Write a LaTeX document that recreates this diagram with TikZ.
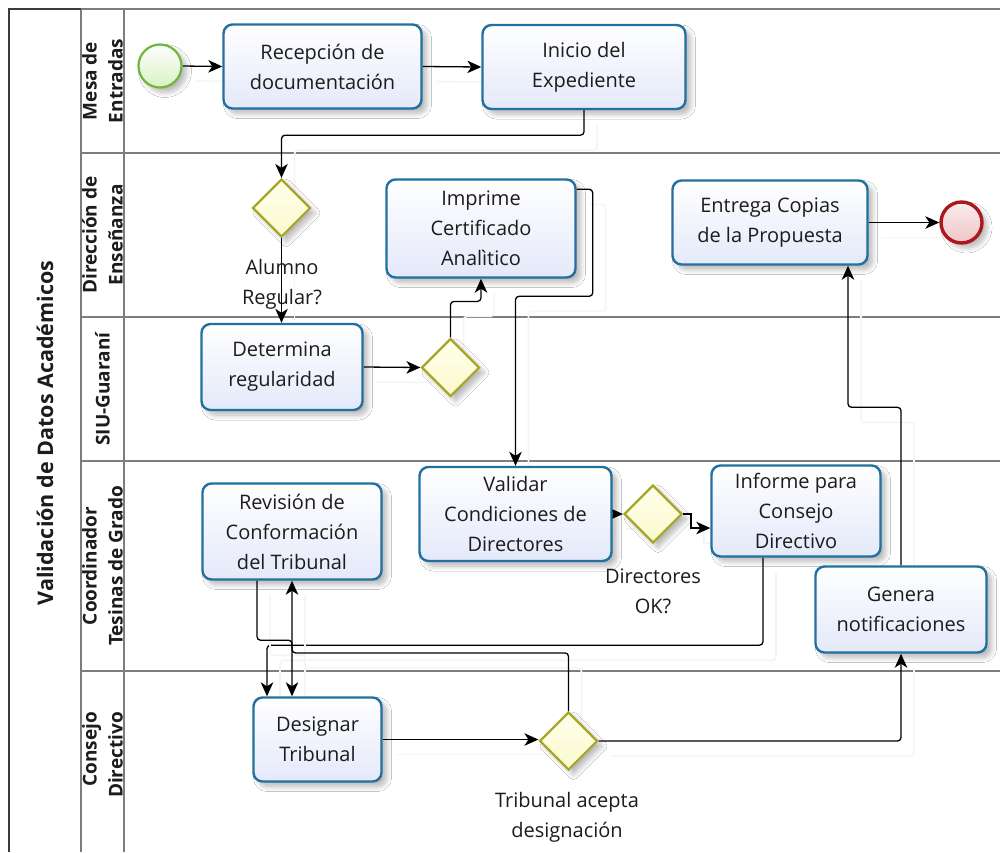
\documentclass[tikz,border=0pt]{standalone}
\usepackage{fontspec}
\setmainfont{Open Sans}
\usetikzlibrary{shapes.geometric,arrows.meta,shadows.blur,calc}

\definecolor{taskline}{RGB}{34,112,160}
\definecolor{taskfill}{RGB}{228,233,250}
\definecolor{gateline}{RGB}{166,166,40}
\definecolor{gatetop}{RGB}{255,255,236}
\definecolor{gatebot}{RGB}{249,249,205}
\definecolor{startline}{RGB}{112,182,60}
\definecolor{startfill}{RGB}{218,240,196}
\definecolor{endline}{RGB}{172,24,30}
\definecolor{endfill}{RGB}{240,196,198}
\definecolor{laneline}{RGB}{125,125,125}
\definecolor{poolline}{RGB}{60,60,60}
\definecolor{txt}{RGB}{28,28,28}

\pgfdeclarelayer{back}
\pgfsetlayers{back,main}

\begin{document}
\begin{tikzpicture}[x=1pt,y=-1pt,
  softshadow/.style={blur shadow={shadow xshift=5pt,shadow yshift=-5pt,
      shadow blur radius=5pt,shadow blur steps=8,shadow opacity=28}},
  task/.style={rectangle,rounded corners=9pt,draw=taskline,line width=2.4pt,
      top color=white,bottom color=taskfill,text=txt,align=center,
      font=\fontsize{20}{30}\selectfont,inner sep=0pt,softshadow},
  gateway/.style={diamond,aspect=1,draw=gateline,line width=2.2pt,
      top color=gatetop,bottom color=gatebot,minimum size=58pt,inner sep=0pt,softshadow},
  startev/.style={circle,draw=startline,line width=2.2pt,top color=white,
      bottom color=startfill,minimum size=43pt,inner sep=0pt,softshadow},
  endev/.style={circle,draw=endline,line width=3.4pt,top color=white!70!endfill,
      bottom color=endfill,minimum size=41pt,inner sep=0pt,softshadow},
  lbl/.style={text=txt,align=center,font=\fontsize{20}{30}\selectfont,inner sep=0pt},
  lanelbl/.style={rotate=90,text=txt,align=center,
      font=\fontsize{19}{26}\selectfont\bfseries,inner sep=0pt},
  flow/.style={draw=black,line width=1.3pt,rounded corners=3.5pt,
      -{Stealth[length=14pt,width=12.5pt,inset=4pt]},
      preaction={draw=black!4,line width=1.6pt,-,transform canvas={shift={(13pt,-15pt)}}}},
  lane/.style={draw=laneline,line width=1.4pt},
  pool/.style={draw=poolline,line width=1.8pt}
]
\useasboundingbox (0,0) rectangle (1000,852);

% ---- tasks ----
\node[task,minimum width=198pt,minimum height=84pt] (rec) at (322.5,66.5) {Recepción de\\documentación};
\node[task,minimum width=203pt,minimum height=84pt] (ini) at (584,67) {Inicio del\\Expediente};
\node[task,minimum width=189pt,minimum height=98pt] (imp) at (481,228.5) {Imprime\\Certificado\\Analìtico};
\node[task,minimum width=195pt,minimum height=84pt] (ent) at (770,222.5) {Entrega Copias\\de la Propuesta};
\node[task,minimum width=161pt,minimum height=86pt] (det) at (282,367) {Determina\\regularidad};
\node[task,minimum width=192pt,minimum height=94pt] (val) at (515.5,514) {Validar\\Condiciones de\\Directores};
\node[task,minimum width=169pt,minimum height=91pt] (inf) at (796,511) {Informe para\\Consejo\\Directivo};
\node[task,minimum width=179pt,minimum height=96pt] (rev) at (292,531.5) {Revisión de\\Conformación\\del Tribunal};
\node[task,minimum width=171pt,minimum height=86pt] (gen) at (901,609.5) {Genera\\notificaciones};
\node[task,minimum width=128pt,minimum height=84pt] (des) at (317.5,739.5) {Designar\\Tribunal};

% ---- gateways and events ----
\node[gateway] (gw1) at (281.5,208) {};
\node[gateway] (gw2) at (450.5,367.5) {};
\node[gateway] (gw3) at (653,514) {};
\node[gateway] (gw4) at (568.5,741) {};
\node[startev] (start) at (160,66) {};
\node[endev] (end) at (961.5,222.5) {};

% ---- gateway captions ----
\node[lbl] (l1) at (282,284) {Alumno\\Regular?};
\node[lbl] (l3) at (653,591) {Directores\\OK?};
\node[lbl] (l4) at (567,817) {Tribunal acepta\\designación};

% ---- pool and lane headers ----
\node[lanelbl,font=\fontsize{21.5}{26}\selectfont\bfseries] (title) at (45,433) {Validación de Datos Académicos};
\node[lanelbl] (h1) at (102.5,81) {Mesa de\\Entradas};
\node[lanelbl] (h2) at (102.5,235) {Dirección de\\Enseñanza};
\node[lanelbl] (h3) at (102.5,389) {SIU-Guaraní};
\node[lanelbl] (h4) at (102.5,566) {Coordinador\\Tesinas de Grado};
\node[lanelbl,align=right] (h5) at (102.5,755) {Consejo\\Directivo};

\begin{pgfonlayer}{back}
  \fill[white] (0,0) rectangle (1000,852);
  % lanes
  \draw[lane] (81,9) -- (1000,9);
  \draw[lane] (81,9) -- (81,852);
  \draw[lane] (124,9) -- (124,852);
  \foreach \ly in {153,317,461,671} \draw[lane] (81,\ly) -- (1000,\ly);
  \draw[pool] (81,9) -- (9,9) -- (9,852);

  % sequence flows
  \draw[flow] (start.east) -- (rec.west);
  \draw[flow] (rec.east) -- (ini.west);
  \draw[flow] (ini.south) -- ++(0,25) -| (gw1.north);
  \draw[flow] (gw1.south) -- (gw1.south |- det.north);
  \draw[flow] (det.east) -- (gw2.west);
  \draw[flow] (gw2.north) -- ++(0,-36) -| (imp.south);
  \draw[flow] ($(imp.north east)+(0,11)$) -- ++(16,0) -- ++(0,107) -| (val.north);
  \draw[flow] (ent.east) -- (end.west);
  \draw[flow] (val.east) -- (gw3.west);
  \draw[flow,sharp corners] (gw3.east) -- ++(8,0) |- ($(inf.west)+(0,17)$);
  \draw[flow] ($(inf.south)+(-33,0)$) -- ++(0,87.5) -| ($(des.north)+(-50.5,0)$);
  \draw[flow] ($(rev.south)+(-35,0)$) -- ++(0,59.5) -| ($(des.north)+(-25.5,0)$);
  \draw[flow] (gw4.north) -- ++(0,-58) -| (rev.south);
  \draw[flow] (des.east) -- (des.east -| gw4.west);
  \draw[flow] (gw4.east) -| (gen.south);
  \draw[flow] (gen.north) -- ++(0,-158) -| ($(ent.south)+(78,0)$);
\end{pgfonlayer}
\end{tikzpicture}
\end{document}
